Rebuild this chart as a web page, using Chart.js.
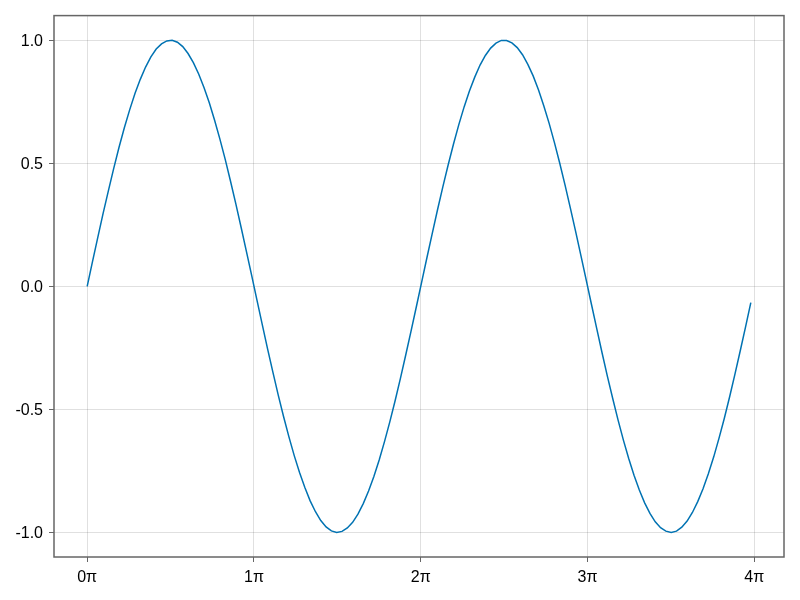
<!DOCTYPE html>
<html>
<head>
<meta charset="utf-8">
<script src="https://cdn.jsdelivr.net/npm/chart.js@4"></script>
<style>
html,body{margin:0;padding:0;background:#fff;}
#wrap{width:800px;height:600px;}
</style>
</head>
<body>
<div id="wrap"><canvas id="c" width="800" height="600"></canvas></div>
<script>
const xValues = [0.0,0.1,0.2,0.3,0.4,0.5,0.6,0.7,0.8,0.9,1.0,1.1,1.2,1.3,1.4,1.5,1.6,1.7,1.8,1.9,
2.0,2.1,2.2,2.3,2.4,2.5,2.6,2.7,2.8,2.9,3.0,3.1,3.2,3.3,3.4,3.5,3.6,3.7,3.8,3.9,
4.0,4.1,4.2,4.3,4.4,4.5,4.6,4.7,4.8,4.9,5.0,5.1,5.2,5.3,5.4,5.5,5.6,5.7,5.8,5.9,
6.0,6.1,6.2,6.3,6.4,6.5,6.6,6.7,6.8,6.9,7.0,7.1,7.2,7.3,7.4,7.5,7.6,7.7,7.8,7.9,
8.0,8.1,8.2,8.3,8.4,8.5,8.6,8.7,8.8,8.9,9.0,9.1,9.2,9.3,9.4,9.5,9.6,9.7,9.8,9.9,
10.0,10.1,10.2,10.3,10.4,10.5,10.6,10.7,10.8,10.9,11.0,11.1,11.2,11.3,11.4,11.5,11.6,11.7,11.8,11.9,
12.0,12.1,12.2,12.3,12.4,12.5];
const yValues = [0.000,0.100,0.199,0.296,0.389,0.479,0.565,0.644,0.717,0.783,
0.841,0.891,0.932,0.964,0.985,0.997,1.000,0.992,0.974,0.946,
0.909,0.863,0.808,0.746,0.675,0.598,0.516,0.427,0.335,0.239,
0.141,0.042,-0.058,-0.158,-0.256,-0.351,-0.443,-0.530,-0.612,-0.688,
-0.757,-0.818,-0.872,-0.916,-0.952,-0.978,-0.994,-1.000,-0.996,-0.982,
-0.959,-0.926,-0.883,-0.832,-0.773,-0.706,-0.631,-0.551,-0.465,-0.374,
-0.279,-0.182,-0.083,0.017,0.117,0.215,0.312,0.405,0.494,0.578,
0.657,0.729,0.794,0.850,0.899,0.938,0.968,0.988,0.999,0.999,
0.989,0.970,0.941,0.902,0.855,0.799,0.734,0.663,0.585,0.501,
0.412,0.319,0.223,0.125,0.025,-0.075,-0.174,-0.272,-0.367,-0.457,
-0.544,-0.625,-0.700,-0.768,-0.828,-0.880,-0.923,-0.957,-0.981,-0.995,
-1.000,-0.995,-0.979,-0.954,-0.919,-0.875,-0.823,-0.762,-0.694,-0.618,
-0.537,-0.450,-0.358,-0.263,-0.166,-0.066];
const xTickValues = [0, Math.PI, 2*Math.PI, 3*Math.PI, 4*Math.PI];
const xTickLabels = ['0π','1π','2π','3π','4π'];
const yTickValues = [-1.0, -0.5, 0.0, 0.5, 1.0];
const yTickLabels = ['-1.0','-0.5','0.0','0.5','1.0'];

const points = xValues.map((x,i)=>({x:x, y:yValues[i]}));
const FONT = {family:'"Liberation Sans", Arial, Helvetica, sans-serif', size:16};
const gridColor = 'rgba(0,0,0,0.12)';
const frameColor = '#666666';

const framePlugin = {
  id:'frame',
  afterDraw(chart){
    const a = chart.chartArea, ctx = chart.ctx;
    ctx.save();
    ctx.strokeStyle = frameColor;
    ctx.lineWidth = 1.5;
    ctx.strokeRect(a.left, a.top, a.right-a.left, a.bottom-a.top);
    ctx.restore();
  }
};

new Chart(document.getElementById('c'), {
  type:'line',
  data:{datasets:[{data:points, borderColor:'#0072B2', borderWidth:1.5, pointRadius:0, fill:false, tension:0}]},
  options:{
    responsive:false, animation:false,
    layout:{padding:{top:15, right:16, left:0, bottom:0}},
    plugins:{legend:{display:false}, tooltip:{enabled:false}},
    scales:{
      x:{type:'linear', min:-0.625, max:13.125,
        afterBuildTicks(s){ s.ticks = xTickValues.map(v=>({value:v})); },
        afterFit(s){ s.height = 43; },
        grid:{color:gridColor, lineWidth:1, drawTicks:true, tickLength:5, tickColor:frameColor, tickWidth:1},
        border:{display:false},
        ticks:{font:FONT, color:'#000', padding:6, maxRotation:0,
          callback:(v,i)=>xTickLabels[i]}
      },
      y:{type:'linear', min:-1.1, max:1.1,
        afterBuildTicks(s){ s.ticks = yTickValues.map(v=>({value:v})); },
        afterFit(s){ s.width = 54; },
        grid:{color:gridColor, lineWidth:1, drawTicks:true, tickLength:5, tickColor:frameColor, tickWidth:1},
        border:{display:false},
        ticks:{font:FONT, color:'#000', padding:6, labelOffset:1.5,
          callback:(v,i)=>yTickLabels[i]}
      }
    }
  },
  plugins:[framePlugin]
});
</script>
</body>
</html>
